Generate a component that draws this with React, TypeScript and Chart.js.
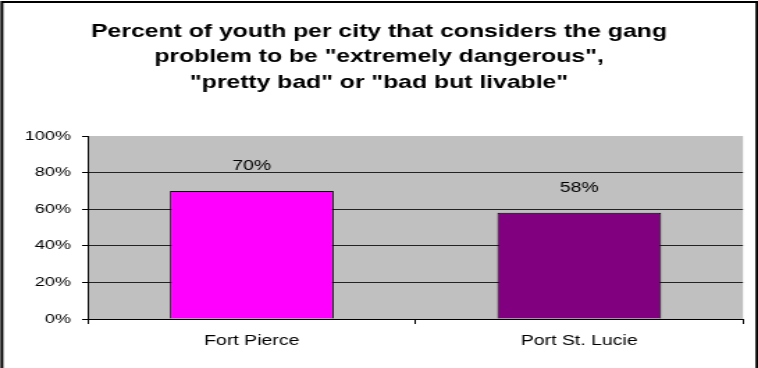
import React, { useEffect, useRef } from "react";
import { Chart, registerables } from "chart.js";

Chart.register(...registerables);

// ---- data ----
const titleLines = [
  "Percent of youth per city that considers the gang",
  'problem to be "extremely dangerous",',
  '"pretty bad" or "bad but livable"',
];
const categories = ["Fort Pierce", "Port St. Lucie"];
const values = [70, 58];
const barColors = ["#FF00FF", "#800080"];
const yMin = 0;
const yMax = 100;
const yStep = 20;

// ---- layout (canvas is drawn narrower and stretched horizontally, like the original) ----
const OUT_W = 758;
const OUT_H = 368;
const IN_W = 545;
const SX = OUT_W / IN_W;
const FONT = "'Liberation Sans', Arial, Helvetica, sans-serif";

export default function App() {
  const ref = useRef<HTMLCanvasElement | null>(null);

  useEffect(() => {
    const canvas = ref.current;
    if (!canvas) return;

    const bgPlugin = {
      id: "bg",
      beforeDraw(chart: any) {
        const { ctx, chartArea } = chart;
        ctx.save();
        ctx.fillStyle = "#FFFFFF";
        ctx.fillRect(0, 0, chart.width, chart.height);
        ctx.fillStyle = "#C0C0C0";
        ctx.fillRect(
          chartArea.left,
          chartArea.top,
          chartArea.right - chartArea.left,
          chartArea.bottom - chartArea.top
        );
        ctx.restore();
      },
    };

    const labelPlugin = {
      id: "labels",
      afterDatasetsDraw(chart: any) {
        const { ctx } = chart;
        const meta = chart.getDatasetMeta(0);
        ctx.save();
        ctx.font = `14px ${FONT}`;
        ctx.fillStyle = "#000";
        ctx.textAlign = "center";
        ctx.textBaseline = "alphabetic";
        meta.data.forEach((bar: any, i: number) => {
          ctx.fillText(`${values[i]}%`, bar.x, bar.y - 21);
        });
        ctx.restore();
      },
    };

    const titleBorderPlugin = {
      id: "titleBorder",
      afterDraw(chart: any) {
        const { ctx } = chart;
        ctx.save();
        ctx.font = `bold 17.8px ${FONT}`;
        ctx.fillStyle = "#000";
        ctx.textAlign = "center";
        ctx.textBaseline = "alphabetic";
        const baselines = [36.5, 62, 87.5];
        titleLines.forEach((line, i) => {
          ctx.fillText(line, chart.width / 2, baselines[i]);
        });
        ctx.strokeStyle = "#000";
        ctx.lineWidth = 2;
        ctx.beginPath();
        ctx.moveTo(1.4, OUT_H + 5);
        ctx.lineTo(1.4, 2);
        ctx.lineTo(IN_W - 0.8, 2);
        ctx.lineTo(IN_W - 0.8, OUT_H + 5);
        ctx.stroke();
        ctx.restore();
      },
    };

    const chart = new Chart(canvas, {
      type: "bar",
      data: {
        labels: categories,
        datasets: [
          {
            data: values,
            backgroundColor: barColors,
            borderColor: "#000",
            borderWidth: 1,
            barPercentage: 0.5,
            categoryPercentage: 1,
          },
        ],
      },
      options: {
        responsive: false,
        animation: false,
        devicePixelRatio: 1,
        layout: { padding: { top: 136, right: 10.8, bottom: 0, left: 0 } },
        plugins: {
          legend: { display: false },
          tooltip: { enabled: false },
          title: { display: false },
        },
        scales: {
          x: {
            grid: {
              drawOnChartArea: false,
              drawTicks: true,
              tickLength: 5,
              color: "#000",
              offset: true,
            },
            border: { display: true, color: "#000", width: 1 },
            ticks: {
              color: "#000",
              font: { family: FONT, size: 14 },
              padding: 9,
              maxRotation: 0,
            },
            afterFit(scale: any) {
              scale.height = 49;
            },
          },
          y: {
            min: yMin,
            max: yMax,
            ticks: {
              stepSize: yStep,
              color: "#000",
              font: { family: FONT, size: 13 },
              padding: 8,
              callback: (v: any) => `${v}%`,
            },
            grid: {
              color: (c: any) => (c.tick && c.tick.value === yMax ? "rgba(0,0,0,0)" : "#222"),
              tickColor: "#000",
              tickLength: 4.3,
              lineWidth: 1,
            },
            border: { display: true, color: "#000", width: 1 },
            afterFit(scale: any) {
              scale.width = 63.3;
            },
          },
        },
      },
      plugins: [bgPlugin, labelPlugin, titleBorderPlugin],
    });

    return () => chart.destroy();
  }, []);

  return (
    <div
      style={{
        position: "fixed",
        left: 0,
        top: 0,
        width: OUT_W,
        height: OUT_H,
        background: "#fff",
      }}
    >
      <canvas
        ref={ref}
        width={IN_W}
        height={OUT_H}
        style={{ width: `${OUT_W}px`, height: `${OUT_H}px`, display: "block" }}
      />
    </div>
  );
}
